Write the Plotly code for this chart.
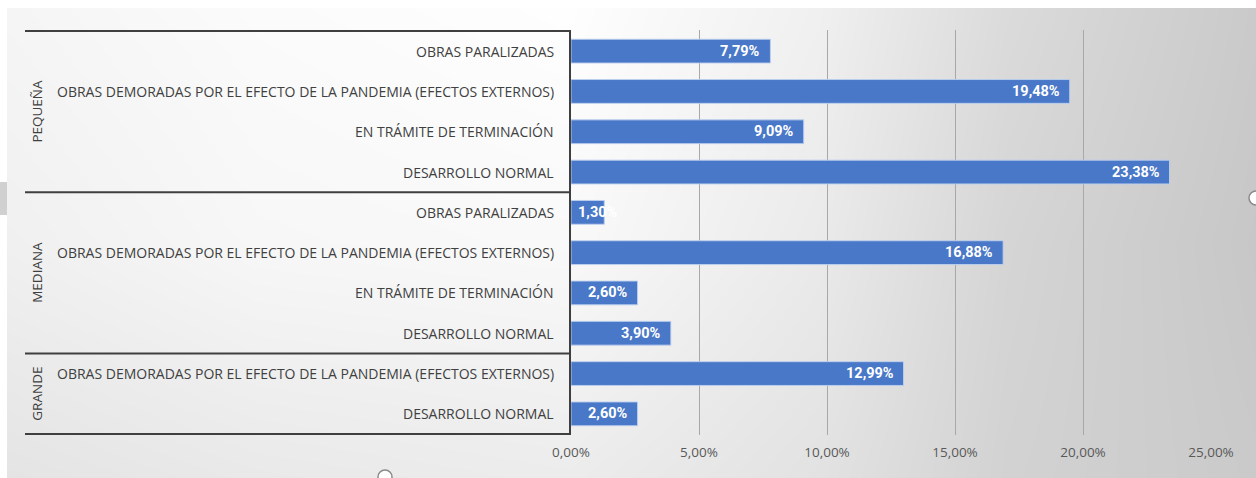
import plotly.graph_objects as go

# %%
# Datos
grupos = ["PEQUEÑA", "PEQUEÑA", "PEQUEÑA", "PEQUEÑA",
          "MEDIANA", "MEDIANA", "MEDIANA", "MEDIANA",
          "GRANDE", "GRANDE"]
estados = ["OBRAS PARALIZADAS",
           "OBRAS DEMORADAS POR EL EFECTO DE LA PANDEMIA (EFECTOS EXTERNOS)",
           "EN TRÁMITE DE TERMINACIÓN",
           "DESARROLLO NORMAL",
           "OBRAS PARALIZADAS",
           "OBRAS DEMORADAS POR EL EFECTO DE LA PANDEMIA (EFECTOS EXTERNOS)",
           "EN TRÁMITE DE TERMINACIÓN",
           "DESARROLLO NORMAL",
           "OBRAS DEMORADAS POR EL EFECTO DE LA PANDEMIA (EFECTOS EXTERNOS)",
           "DESARROLLO NORMAL"]
porcentajes = [7.79, 19.48, 9.09, 23.38, 1.30, 16.88, 2.60, 3.90, 12.99, 2.60]
ticks_x = [0, 5, 10, 15, 20, 25]
ticks_txt = ["0,00%", "5,00%", "10,00%", "15,00%", "20,00%", "25,00%"]

W, H = 1256, 478
categorias = [g + " | " + e for g, e in zip(grupos, estados)]

# %%
fig = go.Figure()

# fondo degradado (estilo Excel)
fondo_x = [0, 0.2, 0.45, 0.65, 0.8, 1.0]
fondo_y = [0, 0.5, 1]
fondo_z = [[228, 233, 236, 226, 210, 202],
           [240, 247, 249, 234, 213, 199],
           [245, 251, 254, 240, 219, 202]]
fig.add_trace(go.Heatmap(x=fondo_x, y=fondo_y, z=fondo_z, zsmooth="best",
                         colorscale=[[0, "rgb(190,190,190)"], [1, "rgb(255,255,255)"]],
                         zmin=190, zmax=255, showscale=False, hoverinfo="skip",
                         xaxis="x", yaxis="y"))

fig.add_trace(go.Bar(x=porcentajes, y=categorias, orientation="h",
                     marker_color="#4a78c8",
                     marker_line=dict(color="rgba(190,208,240,0.9)", width=1),
                     xaxis="x2", yaxis="y2", hovertemplate="%{x:.2f}%<extra></extra>"))

# %%
anot = []
for i, e in enumerate(estados):
    anot.append(dict(text=e, xref="paper", x=556 / W, xanchor="right",
                     yref="y2", y=i, showarrow=False,
                     font=dict(family="Open Sans", size=14, color="#404040")))

for g in ["PEQUEÑA", "MEDIANA", "GRANDE"]:
    idx = [i for i, gg in enumerate(grupos) if gg == g]
    anot.append(dict(text=g, xref="paper", x=37 / W, xanchor="center", yref="y2",
                     y=sum(idx) / len(idx), yanchor="middle", textangle=-90,
                     showarrow=False,
                     font=dict(family="Open Sans", size=13.5, color="#404040")))

for i, v in enumerate(porcentajes):
    txt = f"<b>{v:.2f}%</b>".replace(".", ",")
    if v < 2:
        anot.append(dict(text=txt, xref="x2", x=0, xanchor="left", xshift=5,
                         yref="y2", y=i, showarrow=False,
                         font=dict(family="Roboto", size=14.5, color="white")))
    else:
        anot.append(dict(text=txt, xref="x2", x=v, xanchor="right", xshift=-8,
                         yref="y2", y=i, showarrow=False,
                         font=dict(family="Roboto", size=14.5, color="white")))

# caja de categorías
formas = []
for yv in [-0.5, 3.5, 7.5, 9.5]:
    formas.append(dict(type="line", xref="paper", x0=25 / W, x1=571 / W,
                       yref="y2", y0=yv, y1=yv, line=dict(color="#3f3f3f", width=2)))
# detalles de selección de Excel
formas.append(dict(type="rect", xref="paper", yref="paper", x0=0, x1=7 / W,
                   y0=1 - 215 / H, y1=1 - 182 / H, fillcolor="#d0d0d0", line_width=0))
formas.append(dict(type="circle", xref="paper", yref="paper", x0=1249 / W, x1=1263 / W,
                   y0=1 - 205 / H, y1=1 - 191 / H, fillcolor="white",
                   line=dict(color="#8a8a8a", width=1.5)))
formas.append(dict(type="circle", xref="paper", yref="paper", x0=378 / W, x1=392 / W,
                   y0=1 - 484 / H, y1=1 - 470 / H, fillcolor="white",
                   line=dict(color="#8a8a8a", width=1.5)))

fig.update_layout(
    width=W, height=H, margin=dict(l=0, r=0, t=0, b=0, autoexpand=False),
    paper_bgcolor="white", plot_bgcolor="rgba(0,0,0,0)",
    separators=",.", showlegend=False, bargap=0.41,
    font=dict(family="Open Sans", color="#404040"),
    xaxis=dict(domain=[7 / W, 1], range=[0, 1], visible=False, fixedrange=True),
    yaxis=dict(domain=[0, 1 - 8 / H], range=[0, 1], visible=False, fixedrange=True),
    xaxis2=dict(domain=[571 / W, 1211 / W], range=[0, 25], anchor="y2",
                tickvals=ticks_x, ticktext=ticks_txt, automargin=False,
                showgrid=True, gridcolor="#a8a8a8", gridwidth=1, zeroline=False,
                showline=False, ticks="", ticklabelstandoff=7,
                tickfont=dict(family="Open Sans", size=13.5, color="#595959")),
    yaxis2=dict(domain=[1 - 435 / H, 1 - 30 / H], anchor="x2", type="category",
                autorange="reversed", showticklabels=False, showgrid=False,
                automargin=False,
                showline=True, linecolor="#3f3f3f", linewidth=2, ticks=""),
    annotations=anot, shapes=formas,
)

fig.write_html("out.html", config={"displayModeBar": False},
               post_script="document.body.style.margin='0';"
                           "document.body.style.overflow='hidden';")
